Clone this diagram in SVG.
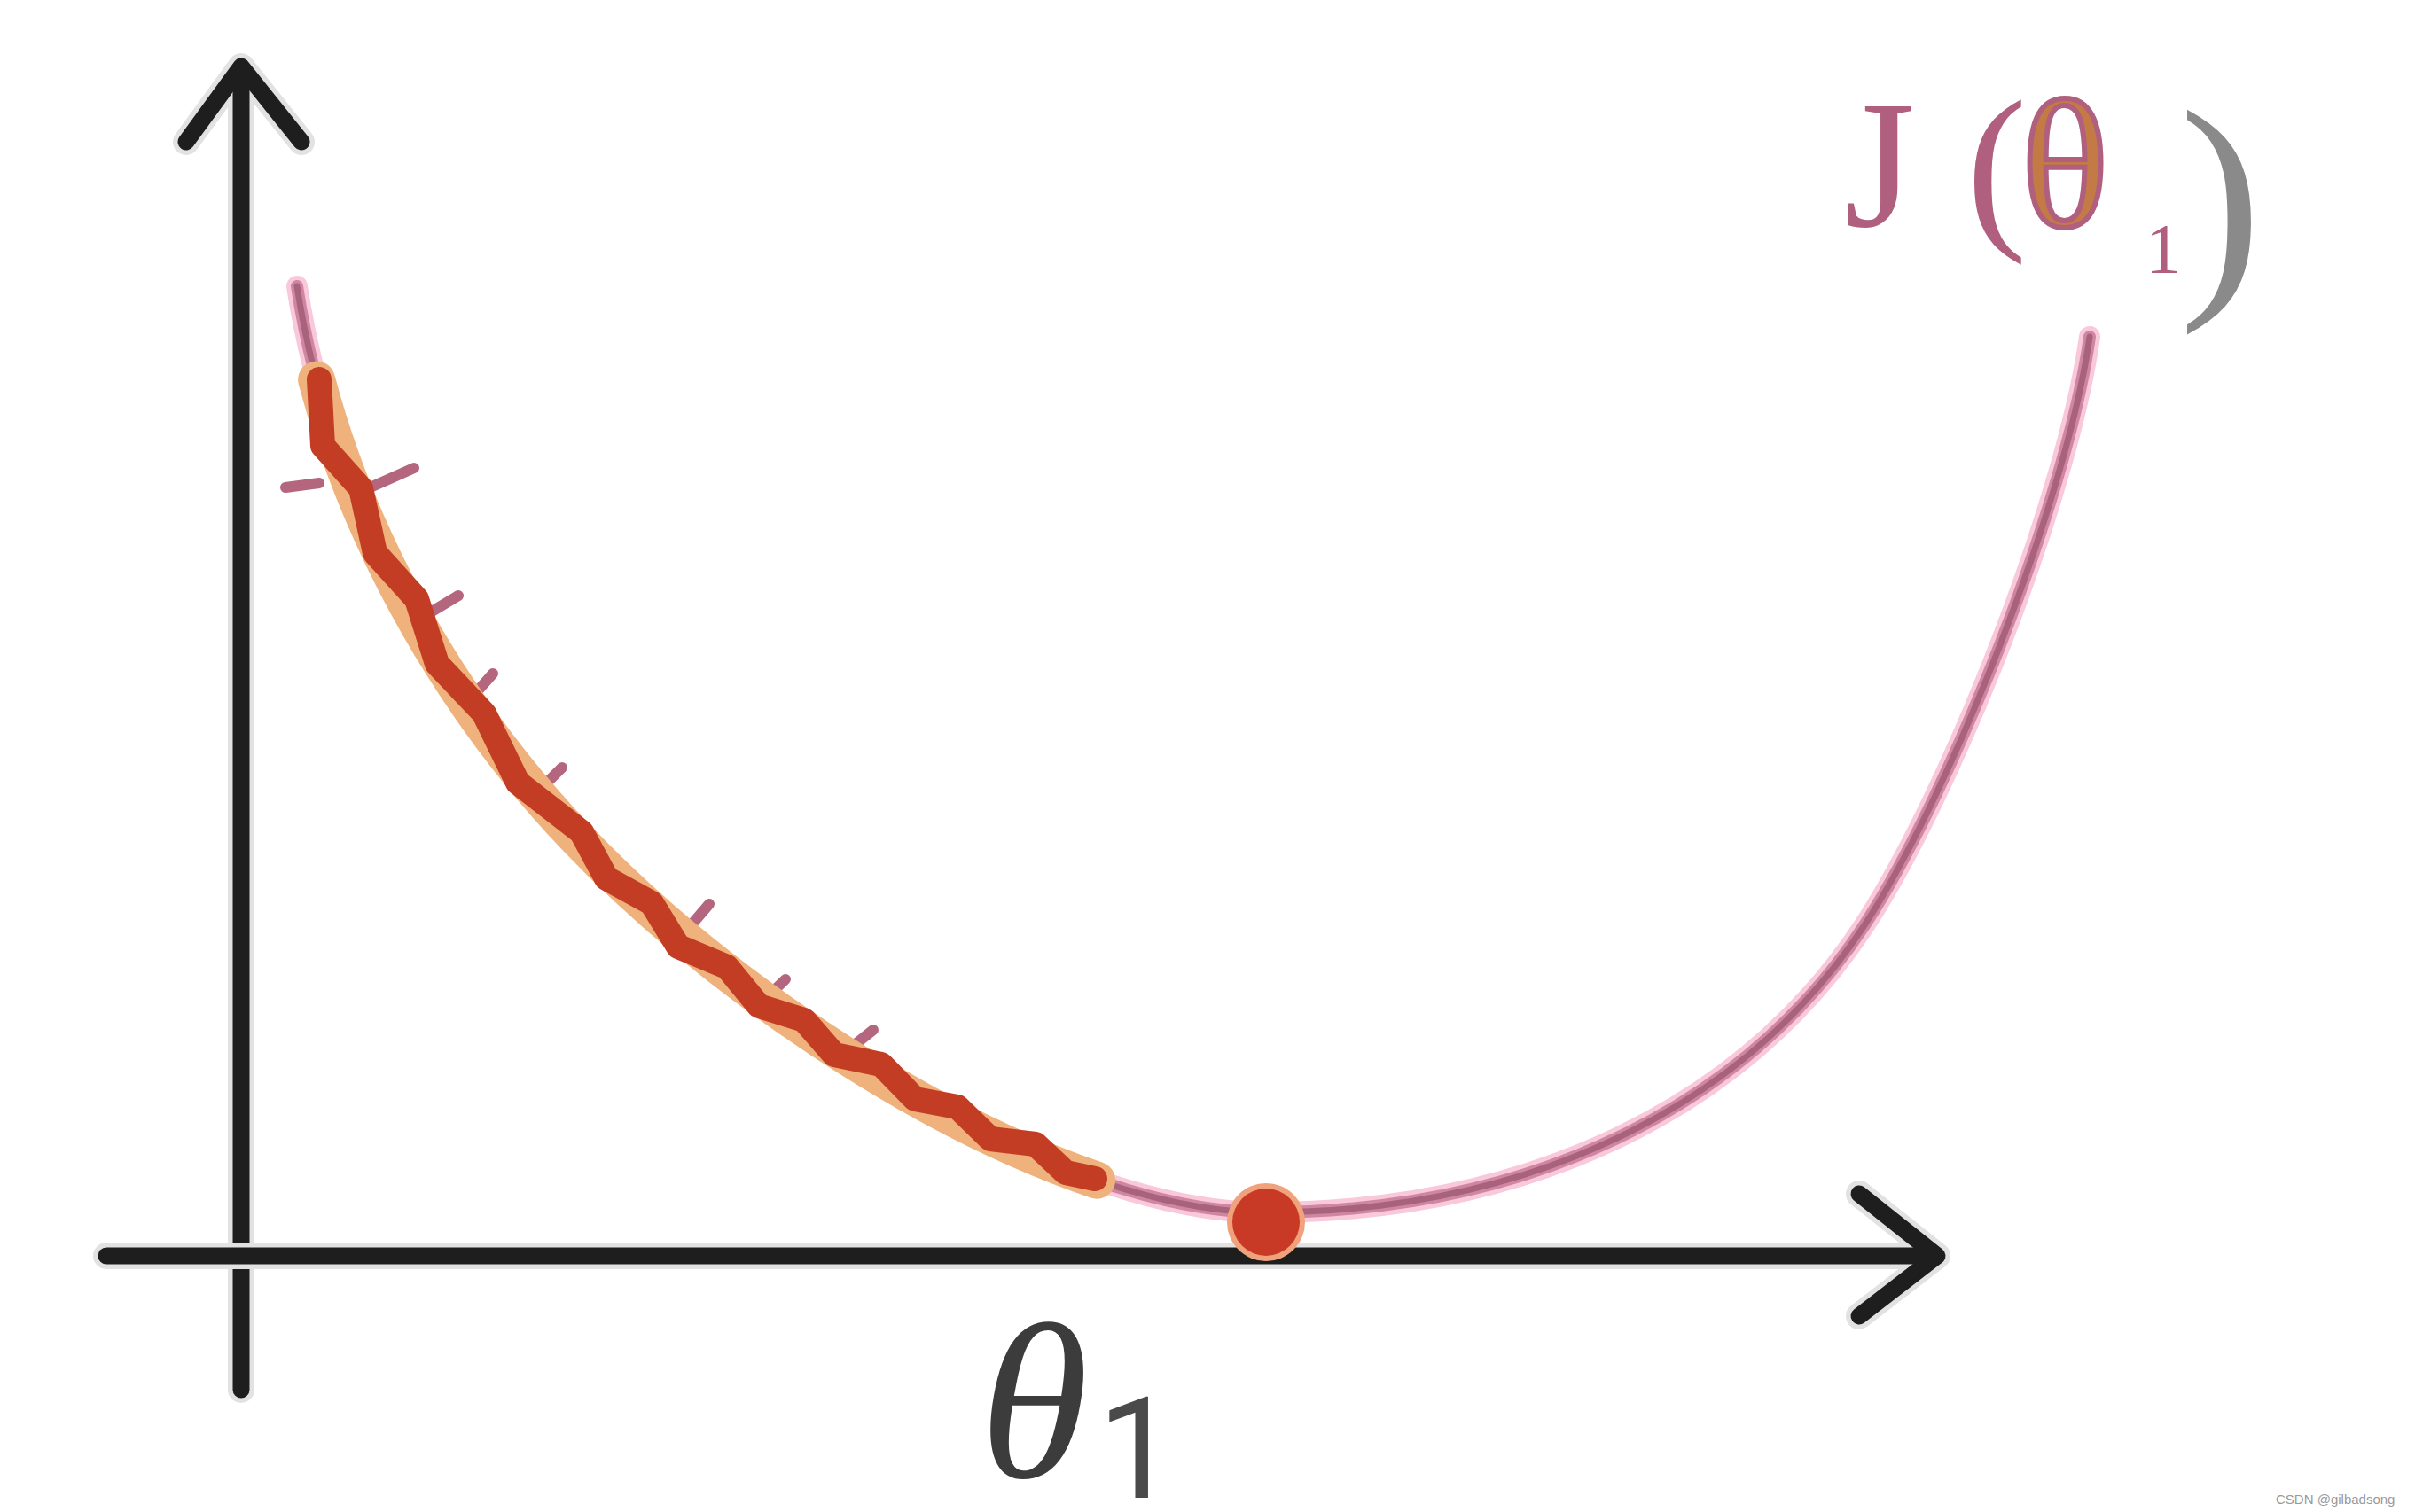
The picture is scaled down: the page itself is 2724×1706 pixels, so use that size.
<svg xmlns="http://www.w3.org/2000/svg" width="2724" height="1706" viewBox="0 0 2724 1706">
  <defs>
    <style>
      .halo { fill: none; stroke: #e2e2e2; stroke-linecap: round; stroke-linejoin: round; }
      .axis { fill: none; stroke: #1e1e1e; stroke-width: 19; stroke-linecap: round; stroke-linejoin: round; }
      .curveHalo { fill: none; stroke: #f9c8da; stroke-width: 24; stroke-linecap: round; stroke-linejoin: round; }
      .curveMid { fill: none; stroke: #cf86a0; stroke-width: 14; stroke-linecap: round; stroke-linejoin: round; }
      .curveCore { fill: none; stroke: #a9627c; stroke-width: 7; stroke-linecap: round; stroke-linejoin: round; }
      .stepOrange { fill: none; stroke: #efb27c; stroke-width: 42; stroke-linecap: round; stroke-linejoin: round; }
      .stepRed { fill: none; stroke: #c23d24; stroke-width: 28; stroke-linecap: round; stroke-linejoin: round; }
      .spike { fill: none; stroke: #b4667f; stroke-width: 12; stroke-linecap: round; }
      .label { font-family: "Liberation Serif", "DejaVu Serif", serif; }
    </style>
    <path id="curvePath" d="M335,323 C370,552 490,777 650,945 C854,1159 1200,1368 1426,1368 C1720,1368 1966,1253 2103,1044 C2203,891 2332,560 2357,380"/>
  </defs>
  <rect width="2724" height="1706" fill="#ffffff"/>

  <g id="axes">
    <g id="y-axis">
      <line class="halo" stroke-width="30" x1="272" y1="80" x2="272" y2="1568"/>
      <polyline class="halo" stroke-width="30" points="210,160 272,75 340,160"/>
      <line class="axis" x1="272" y1="80" x2="272" y2="1568"/>
      <polyline class="axis" points="210,160 272,75 340,160"/>
    </g>
    <g id="x-axis">
      <line class="halo" stroke-width="30" x1="120" y1="1417" x2="2183" y2="1417"/>
      <polyline class="halo" stroke-width="30" points="2097,1347 2185,1417 2097,1485"/>
      <line class="axis" x1="120" y1="1417" x2="2183" y2="1417"/>
      <polyline class="axis" points="2097,1347 2185,1417 2097,1485"/>
    </g>
  </g>

  <g id="cost-curve">
    <use href="#curvePath" class="curveHalo"/>
    <use href="#curvePath" class="curveMid"/>
    <use href="#curvePath" class="curveCore"/>
  </g>

  <g id="descent-steps">
    <g id="spikes">
      <line class="spike" x1="395" y1="560" x2="467" y2="528"/>
      <line class="spike" x1="360" y1="545" x2="322" y2="550"/>
      <line class="spike" x1="462" y1="705" x2="517" y2="672"/>
      <line class="spike" x1="525" y1="795" x2="556" y2="760"/>
      <line class="spike" x1="605" y1="895" x2="634" y2="866"/>
      <line class="spike" x1="770" y1="1055" x2="800" y2="1020"/>
      <line class="spike" x1="860" y1="1130" x2="886" y2="1105"/>
      <line class="spike" x1="950" y1="1190" x2="985" y2="1162"/>
    </g>
    <path d="M335,323 C370,552 490,777 650,945 C854,1159 1200,1368 1426,1368" pathLength="1000" stroke-dasharray="813 1187" stroke-dashoffset="-67" class="stepOrange"/>
    <polyline class="stepRed" points="360,428 364,503 407,551 423,624 470,676 493,749 546,805 584,883 656,939 684,991 735,1019 765,1068 820,1091 856,1135 907,1151 941,1190 994,1201 1032,1240 1080,1249 1117,1285 1168,1291 1202,1323 1235,1330"/>
    <circle cx="1428" cy="1379" r="44" fill="#f0a27c"/>
    <circle cx="1428" cy="1379" r="38" fill="#c83a26"/>
  </g>

  <g id="y-label">
    <text class="label" y="255" font-size="205" fill="#b0607e"><tspan x="2080">J</tspan><tspan x="2218">(</tspan><tspan x="2280" fill="#c47a45" stroke="#b0607e" stroke-width="6">θ</tspan><tspan x="2420" y="308" font-size="80">1</tspan><tspan x="2458" y="318" font-size="280" fill="#8a8a8a">)</tspan></text>
  </g>

  <g id="x-label">
    <text x="1105" y="1667" font-size="250" font-style="italic" class="label" fill="#3c3c3c">θ<tspan x="1238" y="1690" font-size="160" font-style="normal" font-family="Roboto, sans-serif" fill="#4a4a4a">1</tspan></text>
  </g>

  <text x="2567" y="1697" font-size="15" font-family="Liberation Sans, sans-serif" fill="#9a9a9a">CSDN @gilbadsong</text>
</svg>
